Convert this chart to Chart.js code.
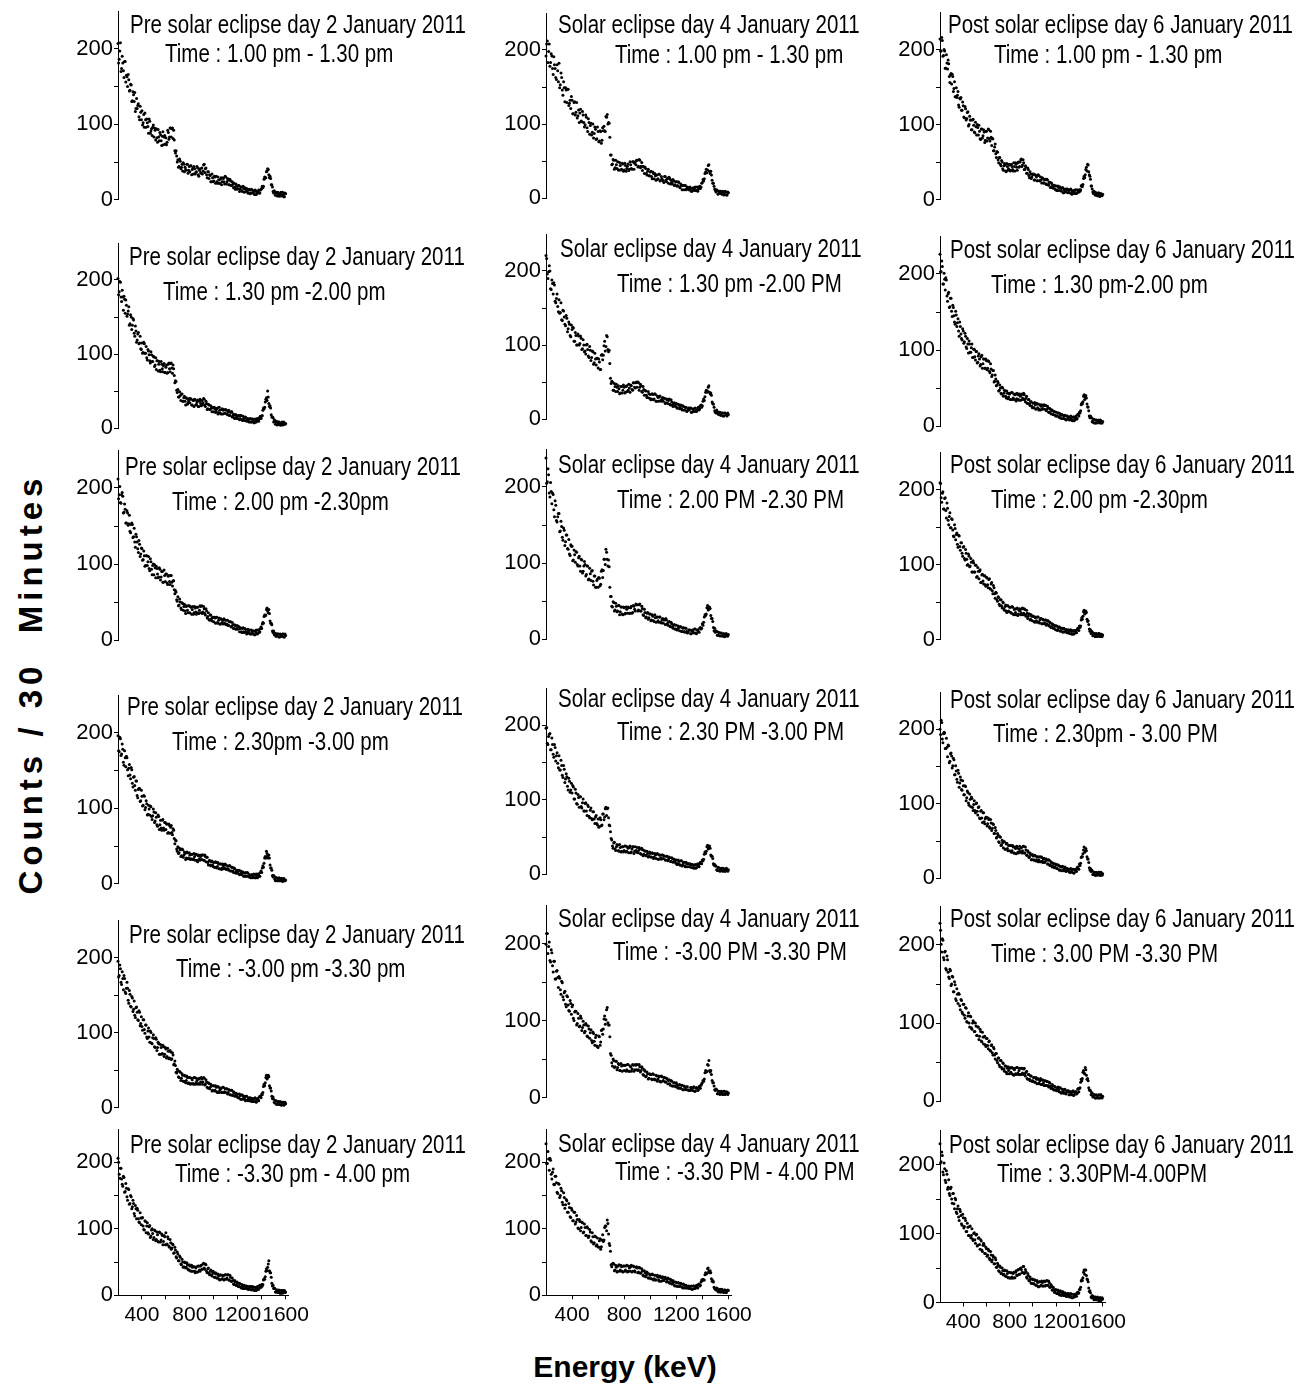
<!DOCTYPE html>
<html>
<head>
<meta charset="utf-8">
<script src="https://cdn.jsdelivr.net/npm/chart.js@4.4.1/dist/chart.umd.min.js"></script>
<style>
body { margin: 0; background: #fff; width: 1304px; height: 1392px; position: relative; overflow: hidden; font-family: "Liberation Sans", Arial, sans-serif; color: #000; }
canvas { position: absolute; }
.ttl { position: absolute; font-size: 25px; line-height: 1; white-space: pre; transform: scaleX(0.82); transform-origin: 0 0; }
#ylab { position: absolute; left: 30px; top: 684px; font-size: 33px; font-weight: bold; letter-spacing: 5px; white-space: pre; line-height: 1; transform: translate(-50%, -50%) rotate(-90deg); }
#xlab { position: absolute; left: 625px; top: 1352px; font-size: 30px; font-weight: bold; line-height: 1; white-space: pre; transform: translateX(-50%); }
</style>
</head>
<body>
<div id="ylab">Counts / 30  Minutes</div>
<div id="xlab">Energy (keV)</div>
<script>
// energy channels (keV), two interleaved sets
const energy = [
  200,210,220,230,240,250,260,270,280,290, 300,310,320,330,340,350,360,370,380,390,
  400,410,420,430,440,450,460,470,480,490, 500,510,520,530,540,550,560,570,580,590,
  600,610,620,630,640,650,660,670,680,690, 700,710,720,730,740,750,760,770,780,790,
  800,810,820,830,840,850,860,870,880,890, 900,910,920,930,940,950,960,970,980,990,
  1000,1010,1020,1030,1040,1050,1060,1070,1080,1090, 1100,1110,1120,1130,1140,1150,1160,1170,1180,1190,
  1200,1210,1220,1230,1240,1250,1260,1270,1280,1290, 1300,1310,1320,1330,1340,1350,1360,1370,1380,1390,
  1400,1410,1420,1430,1440,1450,1460,1470,1480,1490, 1500,1510,1520,1530,1540,1550,1560,1570,1580,1590,
  1600
];
const energyB = [
  205,215,225,235,245,255,265,275,285,295, 305,315,325,335,345,355,365,375,385,395,
  405,415,425,435,445,455,465,475,485,495, 505,515,525,535,545,555,565,575,585,595,
  605,615,625,635,645,655,665,675,685,695, 705,715,725,735,745,755,765,775,785,795,
  805,815,825,835,845,855,865,875,885,895, 905,915,925,935,945,955,965,975,985,995,
  1005,1015,1025,1035,1045,1055,1065,1075,1085,1095, 1105,1115,1125,1135,1145,1155,1165,1175,1185,1195,
  1205,1215,1225,1235,1245,1255,1265,1275,1285,1295, 1305,1315,1325,1335,1345,1355,1365,1375,1385,1395,
  1405,1415,1425,1435,1445,1455,1465,1475,1485,1495, 1505,1515,1525,1535,1545,1555,1565,1575,1585,1595
];

// counts / 30 min, pre eclipse day (2 Jan)
const preT1 = [
  207,186,208,174,181,162,183,165,150,159, 145,152,131,139,142,121,121,127,106,116,
  118,102,96,106,107,97,107,88,94,96, 83,92,94,76,83,89,78,84,73,85,
  82,76,89,83,95,94,81,79,62,58, 53,44,51,43,38,47,43,39,47,39,
  37,45,40,34,41,36,44,33,39,36, 42,38,47,41,33,37,28,32,24,29,
  25,30,31,22,26,22,29,24,28,21, 30,24,26,20,25,19,21,22,14,18,
  15,19,14,17,11,15,16,11,12,9, 13,9,13,10,7,12,10,11,9,13,
  15,16,27,29,37,41,33,31,20,17, 9,10,10,5,8,5,10,6,7,4, 8
];
const preT1b = [
  181,197,170,190,171,183,156,163,166,144, 153,130,143,130,117,134,125,110,124,106,
  99,113,115,96,102,88,104,91,85,99, 95,79,82,93,78,86,72,90,83,74,
  73,92,80,95,83,95,92,65,65,50, 43,54,41,47,49,37,40,47,35,44,
  45,33,42,44,34,37,42,31,41,35, 34,46,36,42,29,37,33,24,34,24,
  31,22,24,30,22,27,20,29,24,31, 21,28,20,27,19,24,16,17,21,14,
  19,11,17,12,18,10,14,15,9,14, 8,14,9,12,13,7,9,13,9,14,
  18,18,30,29,38,40,29,28,20,11, 12,6,9,10,5,8,5,10,4,9
];
const preT2 = [
  202,184,197,171,177,178,155,166,154,164, 141,150,139,146,124,131,119,129,115,107,
  115,102,114,101,95,106,99,88,99,90, 96,85,79,91,86,78,90,80,84,75,
  82,74,86,80,87,81,85,71,64,51, 52,42,44,46,36,41,36,41,32,37,
  34,39,31,37,39,31,35,29,36,33, 37,34,39,29,33,26,31,25,27,27,
  22,26,23,27,21,24,19,26,24,20, 25,19,22,17,21,22,17,14,18,15,
  13,17,13,17,10,13,14,10,12,9, 12,8,12,9,7,11,12,10,13,16,
  16,24,26,35,41,50,33,30,18,15, 8,10,8,4,8,5,4,8,6,5, 6
];
const preT2b = [
  180,198,177,186,159,174,173,151,158,139, 153,133,148,128,138,116,127,114,124,106,
  101,116,101,110,92,104,91,103,90,97, 83,95,91,77,90,76,86,76,87,75,
  85,75,88,76,88,74,80,61,63,48, 42,49,37,46,36,43,31,40,34,40,
  40,31,38,29,38,32,38,29,39,30, 31,40,31,36,25,32,25,30,22,28,
  28,21,26,19,28,20,25,19,25,20, 24,18,24,17,22,15,19,13,18,13,
  17,11,17,11,16,10,15,9,13,8, 13,8,12,7,12,8,13,9,15,13,
  17,27,28,39,37,42,29,27,15,14, 11,5,9,5,8,4,7,4,8,5
];
const preT3 = [
  212,191,181,191,189,168,172,154,167,153, 143,152,152,136,129,139,129,115,126,113,
  120,106,111,98,111,103,94,107,93,98, 86,95,97,87,83,93,83,90,76,85,
  87,75,84,77,85,76,78,66,65,53, 57,46,50,40,48,44,38,44,39,45,
  36,43,40,34,44,37,43,36,39,44, 45,37,41,33,38,31,27,33,28,30,
  24,29,30,23,26,21,28,23,26,22, 26,21,19,24,24,18,20,15,19,15,
  14,17,15,11,15,11,15,11,9,12, 13,8,11,12,7,11,9,13,10,15,
  15,23,31,32,40,38,40,25,22,12, 12,7,5,8,8,4,7,5,8,4, 6
];
const preT3b = [
  186,202,180,194,167,179,154,170,151,164, 141,154,135,147,122,136,120,131,110,121,
  105,117,97,111,98,110,91,103,86,100, 99,82,94,82,95,79,90,76,92,77,
  87,73,85,73,85,71,78,61,63,51, 45,54,42,49,39,47,35,45,36,45,
  44,34,44,36,42,34,43,35,45,36, 35,44,35,41,29,36,26,33,25,30,
  30,22,30,22,29,21,27,21,28,21, 20,26,19,24,17,23,15,20,14,19,
  18,11,16,10,16,10,14,8,14,9, 8,13,8,12,7,13,8,13,11,17,
  21,22,33,33,42,36,35,22,20,10, 7,9,5,8,4,8,5,8,4,8
];
const preT4 = [
  196,175,192,172,178,157,167,169,151,153, 144,154,133,141,130,136,117,125,126,110,
  116,104,116,101,106,92,99,103,89,90, 95,83,88,76,89,78,74,84,74,81,
  72,79,68,77,75,68,73,60,58,46, 49,41,45,37,45,38,40,34,41,34,
  38,33,39,33,36,39,31,37,33,36, 32,38,31,36,35,28,30,25,29,25,
  28,22,28,23,26,20,26,21,24,21, 25,20,20,24,17,22,17,21,15,17,
  14,18,13,15,16,10,14,10,15,10, 12,8,12,9,12,8,11,13,10,15,
  15,24,27,36,43,37,38,25,21,11, 11,6,8,4,7,4,7,4,7,4, 5
];
const preT4b = [
  176,194,170,185,161,176,155,167,143,158, 139,151,128,142,124,136,114,126,109,124,
  103,117,98,110,91,104,91,102,85,99, 81,94,78,91,72,84,71,85,71,81,
  79,67,79,67,77,65,71,53,57,43, 40,47,36,46,35,42,32,42,33,41,
  32,39,32,40,31,39,29,38,31,38, 38,31,38,29,35,25,31,24,30,23,
  22,29,21,28,20,26,19,26,20,26, 19,24,18,24,17,22,15,20,14,18,
  17,12,17,12,15,10,15,10,14,9, 9,12,8,13,8,13,8,13,10,17,
  21,22,34,34,40,34,34,21,18,9, 10,4,8,4,8,4,7,3,7,4
];
const preT5 = [
  195,176,185,164,172,176,154,159,159,139, 151,134,146,131,123,133,127,116,127,112,
  108,117,104,110,94,102,94,102,86,93, 92,80,91,80,85,71,80,72,81,71,
  78,68,75,66,74,65,70,58,56,46, 49,40,47,39,43,35,42,36,40,33,
  40,32,37,31,40,33,36,32,39,34, 38,34,39,31,34,26,32,27,29,23,
  29,23,27,20,27,23,25,20,27,21, 20,25,20,23,17,23,17,20,16,17,
  18,13,16,11,16,14,11,15,10,12, 9,12,11,8,12,8,11,10,14,15,
  18,20,31,33,43,40,41,26,22,12, 11,6,9,5,8,4,7,4,7,4, 5
];
const preT5b = [
  174,190,167,181,157,172,152,167,143,156, 135,148,128,142,120,134,117,129,109,121,
  103,117,99,110,92,106,87,100,85,97, 81,93,76,87,71,84,71,83,68,80,
  66,79,65,76,64,73,57,62,47,51, 41,48,36,45,35,43,33,42,32,40,
  31,39,32,40,31,39,31,38,31,40, 31,40,30,37,27,33,25,31,22,29,
  22,29,21,28,20,26,20,27,20,25, 25,18,24,17,23,16,21,15,19,14,
  13,18,11,17,11,15,9,15,9,13, 13,8,12,8,13,7,12,9,15,13,
  17,28,29,40,38,43,29,26,15,14, 7,9,4,8,4,8,3,7,3,7
];
const preT6 = [
  206,182,191,175,164,177,156,161,143,159, 138,148,133,138,119,130,131,115,109,116,
  116,104,98,111,104,94,103,87,98,93, 87,97,84,91,80,94,83,90,81,88,
  94,77,85,72,79,71,76,64,68,56, 62,52,57,46,50,43,49,42,46,38,
  44,36,42,43,36,41,35,44,38,44, 39,47,41,47,36,40,33,36,31,35,
  33,27,32,26,29,23,30,25,29,24, 31,26,31,23,27,21,22,16,20,15,
  18,13,17,11,14,10,14,11,13,9, 9,13,9,12,7,11,12,9,14,12,
  16,16,25,28,40,42,52,34,27,14, 10,10,5,8,5,7,3,7,4,7, 5
];
const preT6b = [
  200,176,191,167,179,155,168,148,160,137, 150,130,143,123,135,115,128,110,124,106,
  117,99,112,94,109,92,105,89,100,84, 98,82,95,81,95,80,92,76,90,76,
  76,88,74,84,69,77,63,72,58,65, 52,59,47,54,42,50,41,49,39,46,
  37,45,36,43,34,43,35,44,36,45, 39,48,39,46,34,41,31,38,29,36,
  27,34,26,32,24,31,24,30,23,31, 24,31,23,30,21,26,17,22,15,20,
  13,18,12,16,10,15,10,14,9,13, 13,8,13,8,12,7,13,9,15,12,
  14,23,24,36,37,47,37,34,18,15, 11,5,8,4,8,3,7,3,7,4
];

// counts / 30 min, eclipse day (4 Jan)
const eclT1 = [
  192,212,198,178,195,175,191,175,160,172, 182,153,163,139,149,149,129,147,128,121,
  132,114,130,116,108,119,115,104,117,102, 99,109,90,102,98,85,100,87,93,80,
  90,77,90,78,91,91,110,113,102,82, 58,46,51,41,45,49,38,44,39,46,
  38,44,40,46,39,45,39,49,47,45, 51,43,51,43,37,42,42,33,36,30,
  35,29,35,26,30,31,26,32,24,26, 23,29,24,26,20,26,24,19,23,18,
  22,17,21,14,17,17,11,17,13,14, 11,13,9,14,12,10,15,12,16,15,
  21,23,33,39,38,45,33,31,20,16, 10,11,5,9,9,5,8,5,8,4, 7
];
const eclT1b = [
  208,183,208,183,192,167,180,163,180,157, 149,169,146,157,130,146,147,125,132,137,
  114,129,112,129,111,102,120,103,112,96, 112,95,107,86,101,89,81,96,79,96,
  76,91,74,95,97,90,109,100,101,58, 45,52,39,51,40,38,48,38,47,36,
  47,36,43,37,49,40,49,39,49,51, 42,52,41,48,43,33,40,31,39,30,
  36,26,33,33,24,25,32,23,29,24, 21,29,22,27,28,19,21,25,17,22,
  16,22,15,19,11,17,17,11,15,11, 15,9,13,10,15,10,9,15,13,20,
  25,26,35,34,44,36,36,24,20,12, 8,10,6,9,6,9,4,9,4,8
];
const eclT2 = [
  221,196,199,200,175,183,184,159,163,152, 161,144,134,147,138,126,136,122,128,111,
  121,123,105,113,100,112,102,109,95,100, 92,100,94,83,93,83,91,76,81,82,
  69,77,67,87,86,105,98,111,91,75, 48,50,39,44,47,37,41,35,44,39,
  43,36,45,39,42,46,40,49,43,49, 43,49,43,45,36,40,39,32,29,34,
  33,27,33,27,33,24,29,30,25,27, 24,28,22,26,25,20,26,19,21,18,
  21,15,19,17,14,18,12,16,10,14, 12,15,9,13,14,10,12,16,14,19,
  18,27,30,39,38,45,34,32,21,16, 9,12,7,9,5,8,4,8,7,4, 6
];
const eclT2b = [
  217,190,207,176,188,169,181,157,169,145, 143,157,133,146,128,140,118,131,113,127,
  124,105,117,100,115,100,112,94,107,91, 88,101,85,98,79,92,74,89,73,82,
  81,67,86,80,99,92,113,94,93,55, 51,39,48,37,43,45,34,44,35,46,
  35,44,37,47,36,45,39,49,42,50, 50,39,47,37,44,32,38,29,37,28,
  26,34,26,34,24,31,24,31,24,29, 28,21,27,21,27,19,23,17,22,17,
  15,20,14,19,12,17,12,16,11,15, 15,9,14,10,15,10,15,12,18,16,
  24,25,36,36,43,36,35,23,20,11, 8,10,6,9,5,8,4,8,5,8
];
const eclT3 = [
  238,207,216,187,194,192,170,182,156,161, 165,142,148,130,143,128,137,118,112,124,
  122,104,111,115,98,107,96,105,87,96, 98,85,96,79,86,89,76,83,68,77,
  68,80,72,91,90,105,118,105,104,68, 56,42,48,38,43,37,44,36,42,32,
  41,34,39,42,34,41,34,44,39,46, 45,38,46,37,40,31,35,29,35,28,
  33,25,30,23,28,29,24,29,22,25, 21,25,27,20,22,17,22,16,18,13,
  18,13,15,16,10,14,10,14,10,9, 12,7,11,9,13,8,12,10,14,13,
  20,22,32,33,44,39,40,27,23,11, 9,10,5,8,8,4,7,3,7,4, 6
];
const eclT3b = [
  205,224,192,206,178,190,161,176,154,165, 141,155,134,146,123,137,119,131,110,122,
  103,117,101,114,96,109,89,104,89,102, 83,96,78,93,77,90,71,83,68,79,
  81,70,89,81,105,98,114,96,95,56, 43,49,37,47,36,44,32,42,33,42,
  33,42,34,41,34,43,35,43,37,45, 37,45,37,43,32,39,28,34,26,33,
  24,32,24,32,22,29,22,29,21,27, 26,19,25,18,23,16,20,14,19,13,
  12,17,11,16,10,15,9,14,8,12, 12,7,12,8,13,7,12,9,15,14,
  18,29,31,41,38,42,31,27,15,14, 11,5,9,4,8,4,7,4,7,4
];
const eclT4 = [
  196,176,185,189,167,174,157,170,159,149, 159,140,146,130,141,128,131,113,125,113,
  109,117,101,109,94,103,104,91,96,85, 95,85,93,78,86,75,84,74,77,68,
  74,64,73,66,81,77,90,88,76,65, 48,38,42,34,37,39,31,36,31,37,
  32,38,31,35,36,29,34,37,31,32, 36,32,34,27,33,27,31,26,28,24,
  28,23,28,23,26,27,20,26,22,26, 21,24,19,24,20,22,17,21,17,18,
  19,14,17,12,18,13,16,10,14,14, 10,13,13,9,12,8,13,11,14,16,
  19,20,30,31,39,36,35,24,21,12, 11,6,9,5,7,5,8,4,7,5, 6
];
const eclT4b = [
  197,174,188,167,183,161,174,152,163,143, 140,153,133,146,123,135,118,129,110,122,
  119,101,114,95,107,90,104,89,101,85, 96,79,91,76,89,73,84,68,79,66,
  63,76,65,81,73,88,79,89,66,57, 46,35,43,32,40,32,40,30,37,30,
  38,30,37,29,38,30,37,28,37,30, 29,36,28,35,25,32,25,31,23,30,
  23,29,21,28,21,28,20,26,20,26, 25,19,24,18,23,17,22,16,20,15,
  13,19,13,18,11,16,11,16,10,14, 14,9,13,8,13,9,14,10,16,14,
  18,27,28,37,34,38,26,24,14,13, 11,5,9,4,8,4,7,4,8,4
];
const eclT5 = [
  199,213,196,178,192,171,177,154,164,156, 157,140,151,131,136,121,132,120,112,122,
  118,103,111,112,96,103,93,103,91,94, 86,94,79,89,84,74,85,73,78,67,
  65,79,72,88,89,106,101,117,94,79, 55,41,48,40,47,39,43,35,41,42,
  35,42,36,43,34,40,37,42,36,42, 43,36,40,35,38,29,34,28,31,25,
  30,24,31,24,23,28,24,27,20,27, 22,26,20,24,22,18,22,15,19,15,
  19,13,16,12,16,10,15,11,14,10, 9,13,10,13,8,12,12,10,15,16,
  19,21,32,33,43,48,33,30,19,15, 9,10,5,8,5,7,4,8,5,7, 6
];
const eclT5b = [
  213,187,202,176,188,163,177,154,165,143, 155,134,149,127,138,118,131,113,126,108,
  120,100,112,94,109,92,106,87,99,84, 96,80,93,77,88,71,83,68,81,66,
  80,68,87,82,102,95,114,97,94,57, 45,50,39,47,36,44,35,44,34,42,
  42,34,43,34,41,34,43,34,43,36, 35,43,33,40,30,36,27,33,24,31,
  30,23,30,23,29,21,28,21,28,21, 26,20,25,18,23,16,21,15,19,14,
  17,12,17,12,16,10,14,10,14,9, 9,13,9,14,8,13,9,14,12,18,
  22,24,35,34,42,35,35,22,19,10, 11,5,8,4,8,4,8,4,7,4
];
const eclT6 = [
  228,198,205,206,182,185,167,179,169,153, 167,150,157,136,147,136,142,125,132,117,
  128,112,125,110,114,100,111,102,109,95, 102,90,101,89,95,80,88,79,88,76,
  73,82,69,83,81,102,104,113,92,75, 46,47,47,38,42,36,46,38,43,35,
  44,38,45,36,41,43,35,44,37,42, 41,35,41,34,37,29,34,30,33,26,
  30,25,31,25,23,29,27,21,27,26, 22,26,25,21,25,18,22,18,20,14,
  19,13,18,14,17,11,15,15,11,13, 10,13,9,14,10,13,12,16,14,20,
  22,23,31,32,40,36,37,25,22,12, 9,11,6,8,5,9,5,8,4,7, 7
];
const eclT6b = [
  198,216,188,203,175,190,166,179,155,168, 147,161,140,154,131,144,125,138,118,131,
  112,125,107,120,101,114,97,110,94,107, 90,103,87,99,82,94,77,89,74,86,
  72,85,73,91,83,104,97,108,78,66, 43,48,37,45,35,44,36,45,36,44,
  36,44,35,44,36,45,36,43,35,43, 34,42,33,40,30,37,28,35,26,32,
  25,32,23,30,23,30,23,29,21,28, 22,27,20,26,19,24,17,22,15,20,
  14,19,13,18,12,17,11,15,11,14, 10,14,9,14,10,15,11,17,15,23,
  24,23,34,33,41,34,34,21,20,10, 8,10,5,9,5,8,4,8,4,8
];

// counts / 30 min, post eclipse day (6 Jan)
const postT1 = [
  214,198,212,192,198,175,182,186,164,166, 154,164,148,137,149,139,126,135,136,119,
  125,109,121,108,117,100,106,93,106,99, 89,97,100,86,91,80,94,85,90,79,
  91,82,93,78,83,81,65,70,61,64, 53,56,47,52,41,45,46,37,44,41,
  46,39,44,38,44,49,43,49,43,50, 54,46,49,40,43,35,40,29,34,30,
  33,26,33,30,25,32,25,26,29,22, 26,21,27,20,23,16,22,17,18,14,
  18,12,16,17,12,15,9,13,11,14, 9,12,13,8,11,9,12,8,13,10,
  13,13,19,20,31,33,43,47,37,31, 18,14,8,10,6,8,5,8,5,6, 7
];
const postT1b = [
  198,216,191,200,175,193,174,181,156,168, 167,144,157,137,136,144,123,134,119,130,
  110,124,106,116,98,111,106,93,107,90, 103,86,96,99,81,94,82,93,76,91,
  78,94,81,91,72,81,65,74,56,63, 49,56,45,50,39,48,38,48,39,47,
  38,47,40,49,38,47,39,50,44,53, 44,53,40,45,35,42,32,37,28,34,
  34,26,32,25,33,25,30,22,28,22, 27,20,26,19,23,16,20,15,19,13,
  12,18,12,16,11,16,9,14,10,14, 13,9,14,7,12,8,13,8,12,10,
  11,18,17,28,29,40,38,46,33,27, 18,10,11,6,9,5,9,4,8,5
];
const postT2 = [
  226,203,210,187,193,195,171,174,156,168, 151,159,145,134,146,136,125,137,121,113,
  125,111,118,102,108,112,97,103,90,101, 91,98,83,92,88,81,93,82,88,76,
  86,76,85,70,75,67,73,59,62,54, 57,47,50,42,50,43,46,37,43,38,
  42,35,44,37,35,42,36,41,34,39, 41,37,43,35,37,30,35,29,32,26,
  30,24,28,30,24,21,28,26,22,27, 22,27,22,24,18,22,20,15,19,14,
  18,13,17,11,14,15,10,13,9,13, 9,12,9,11,7,12,9,13,10,15,
  18,20,30,32,41,38,37,25,20,11, 11,6,9,4,8,4,7,5,8,4, 6
];
const postT2b = [
  203,217,187,201,179,192,164,176,157,168, 144,156,137,151,131,141,118,131,115,128,
  109,122,104,115,96,108,97,108,90,101, 87,98,84,95,79,91,76,88,76,88,
  74,86,72,82,65,73,58,67,53,59, 46,54,43,51,39,47,39,46,36,43,
  35,44,35,42,41,33,43,35,42,34, 42,35,41,32,39,30,35,27,32,24,
  24,31,22,29,29,22,21,28,23,28, 27,20,26,18,23,16,21,15,19,13,
  13,17,12,16,10,14,10,14,8,13, 12,8,13,8,12,7,12,9,15,13,
  17,28,29,39,35,40,29,25,13,13, 11,5,9,4,8,5,8,4,7,4
];
const postT3 = [
  209,189,195,174,188,172,182,159,164,149, 161,146,137,148,140,127,139,124,129,115,
  123,108,120,107,100,111,98,103,90,102, 90,99,84,91,91,76,86,78,85,73,
  83,73,80,68,74,65,72,61,63,53, 57,47,53,45,50,41,44,38,45,38,
  43,36,44,34,40,36,41,32,39,38, 35,42,35,40,31,35,31,34,27,31,
  31,24,29,25,30,23,26,28,21,26, 22,26,21,25,18,22,17,20,15,18,
  18,12,16,16,12,15,10,14,11,13, 9,12,12,8,11,7,12,10,13,15,
  18,18,29,31,39,35,36,24,20,11, 8,10,6,8,4,7,5,8,4,7, 6
];
const postT3b = [
  208,183,197,174,189,162,175,153,169,149, 160,138,153,133,142,123,138,119,129,111,
  124,106,115,99,114,97,108,90,105,90, 99,83,96,81,93,76,87,74,85,71,
  82,69,81,67,76,61,69,55,62,51, 56,45,53,42,49,39,46,36,45,37,
  43,35,43,33,41,33,42,34,41,33, 41,33,41,33,39,28,34,26,33,25,
  31,23,30,23,30,22,28,21,27,21, 26,19,25,19,23,16,21,15,19,13,
  18,13,17,11,15,10,15,10,13,9, 13,8,13,7,12,8,12,9,15,12,
  16,26,27,37,34,38,27,25,14,13, 11,5,8,4,8,4,8,4,7,4
];
const postT4 = [
  200,212,187,194,195,174,176,179,155,167, 164,151,159,139,144,129,141,128,132,118,
  124,112,123,108,115,98,106,109,95,99, 91,100,90,95,81,90,81,88,76,80,
  82,73,79,67,74,67,72,60,64,55, 58,48,55,45,48,49,39,46,40,44,
  37,44,37,42,34,40,43,35,39,36, 41,37,43,34,38,31,35,29,32,25,
  30,24,30,25,29,25,22,29,23,26, 21,26,24,19,24,18,21,16,19,15,
  18,13,17,11,15,15,11,13,10,13, 10,12,8,11,12,7,11,10,14,13,
  19,20,29,33,42,37,37,26,21,11, 9,10,5,8,4,7,5,8,4,7, 6
];
const postT4b = [
  193,209,182,196,174,188,163,178,157,168, 148,161,139,151,133,145,122,136,119,131,
  112,124,104,117,101,113,96,107,91,104, 88,101,85,96,80,91,75,88,73,82,
  70,81,69,79,64,73,60,68,54,60, 49,56,44,51,41,49,39,47,37,44,
  44,35,44,34,42,33,41,34,43,35, 34,43,34,42,31,37,28,34,25,32,
  25,31,23,29,22,29,22,28,21,27, 22,26,19,25,17,22,15,20,14,19,
  13,18,11,16,10,16,10,15,9,13, 12,8,13,8,12,7,12,9,15,12,
  17,28,29,38,35,40,29,26,14,13, 11,5,8,4,8,4,8,4,8,4
];
const postT5 = [
  228,201,208,184,191,170,186,165,157,167, 150,159,140,149,129,137,138,122,130,114,
  124,110,120,102,109,100,109,94,100,101, 89,96,84,95,83,89,76,82,82,72,
  80,71,76,65,71,62,69,59,61,52, 55,46,52,43,49,41,45,37,42,39,
  42,37,43,34,40,35,43,36,39,34, 42,36,41,35,37,29,34,28,32,26,
  26,30,24,28,29,23,26,21,27,23, 26,20,25,20,24,19,17,20,14,18,
  14,17,14,17,11,15,12,14,10,12, 12,8,12,9,12,7,11,12,10,16,
  16,24,26,37,36,43,33,29,17,14, 8,10,6,8,4,7,7,4,8,5, 6
];
const postT5b = [
  219,191,206,181,192,168,181,159,169,148, 160,140,153,131,144,125,137,117,129,112,
  124,106,119,101,113,95,108,92,103,89, 100,84,95,79,92,77,88,73,83,70,
  80,67,77,64,72,59,67,54,61,49, 55,44,52,41,48,38,45,35,44,35,
  43,35,42,33,42,34,43,34,42,34, 42,34,42,32,38,28,34,26,32,25,
  30,24,30,22,28,22,29,21,27,20, 26,20,25,18,23,16,21,15,19,14,
  13,18,12,17,10,15,10,15,9,13, 13,8,12,8,13,8,12,9,15,12,
  17,28,29,39,35,40,28,26,14,13, 11,5,8,4,8,4,8,4,8,4
];
const postT6 = [
  230,204,213,185,194,174,186,167,158,165, 150,158,143,151,131,136,124,135,126,112,
  123,110,119,103,109,97,111,97,92,100, 91,98,82,93,84,91,76,83,83,71,
  78,69,75,62,69,62,66,56,62,51, 54,45,51,42,46,41,46,38,42,36,
  36,43,37,42,36,44,40,47,41,49, 48,44,52,43,45,35,39,31,34,28,
  33,27,32,25,29,23,30,25,29,24, 30,25,32,25,29,22,24,18,19,15,
  18,13,16,11,15,12,14,10,12,9, 9,12,9,12,7,12,9,12,14,13,
  19,22,33,36,47,47,39,33,21,17, 8,10,6,8,4,7,6,3,7,4, 5
];
const postT6b = [
  202,218,189,202,177,191,164,178,155,167, 144,158,136,149,129,140,119,132,114,128,
  108,122,103,115,97,110,94,107,90,101, 86,99,83,94,77,89,74,86,71,80,
  67,77,64,74,59,68,56,65,51,57, 46,53,42,50,40,47,38,46,36,44,
  35,43,35,44,36,46,39,48,41,50, 43,52,42,48,37,42,32,37,28,34,
  27,33,25,32,23,30,24,31,24,31, 24,31,25,31,22,26,18,22,15,19,
  13,18,12,17,10,16,10,14,9,13, 13,8,13,7,12,8,12,9,15,14,
  19,31,32,44,41,47,34,30,16,14, 7,9,4,8,4,8,3,7,3,7
];

const headings = [
  'Pre solar eclipse day 2 January 2011',
  'Solar eclipse day 4 January 2011',
  'Post solar eclipse day 6 January 2011'
];
const timeLabels = [
  ['Time : 1.00 pm - 1.30 pm', 'Time : 1.00 pm - 1.30 pm', 'Time : 1.00 pm - 1.30 pm'],
  ['Time : 1.30 pm -2.00 pm', 'Time : 1.30 pm -2.00 PM', 'Time : 1.30 pm-2.00 pm'],
  ['Time : 2.00 pm -2.30pm', 'Time : 2.00 PM -2.30 PM', 'Time : 2.00 pm -2.30pm'],
  ['Time : 2.30pm -3.00 pm', 'Time : 2.30 PM -3.00 PM', 'Time : 2.30pm - 3.00 PM'],
  ['Time : -3.00 pm -3.30 pm', 'Time : -3.00 PM -3.30 PM', 'Time : 3.00 PM -3.30 PM'],
  ['Time : -3.30 pm - 4.00 pm', 'Time : -3.30 PM - 4.00 PM', 'Time : 3.30PM-4.00PM']
];
// tick marks and which of them carry a label
const xTickMarks = [400, 600, 800, 1000, 1200, 1400, 1600];
const xTicks = [400, 800, 1200, 1600];
const yTickMarks = [0, 50, 100, 150, 200];
const yTicks = [0, 100, 200];

const panelCounts = [
  [[preT1, preT1b], [eclT1, eclT1b], [postT1, postT1b]],
  [[preT2, preT2b], [eclT2, eclT2b], [postT2, postT2b]],
  [[preT3, preT3b], [eclT3, eclT3b], [postT3, postT3b]],
  [[preT4, preT4b], [eclT4, eclT4b], [postT4, postT4b]],
  [[preT5, preT5b], [eclT5, eclT5b], [postT5, postT5b]],
  [[preT6, preT6b], [eclT6, eclT6b], [postT6, postT6b]]
];

// page layout: y-axis x position and plot width per column
const colX = [118, 546, 940];
const colW = [170, 185, 165];
// pixel y of count 0 and count 200 for each panel
const rowY = [
  [[200, 49], [198, 50], [199, 49]],
  [[428, 280], [419, 271], [426, 274]],
  [[640, 488], [639, 487], [639, 489]],
  [[884, 733], [874, 725], [878, 729]],
  [[1107, 957], [1097, 943], [1101, 945]],
  [[1295, 1162], [1295, 1162], [1302, 1164]]
];
// title line positions: [x1, baseline1, x2, baseline2]
const titlePos = [
  [[130, 33, 165, 62], [558, 33, 615, 63], [948, 33, 994, 63]],
  [[129, 265, 163, 300], [560, 257, 617, 292], [950, 258, 991, 293]],
  [[125, 475, 172, 510], [558, 473, 617, 508], [950, 473, 991, 508]],
  [[127, 715, 172, 750], [558, 707, 617, 740], [950, 708, 993, 742]],
  [[129, 943, 176, 977], [558, 927, 613, 960], [950, 927, 991, 962]],
  [[130, 1153, 175, 1182], [558, 1152, 615, 1180], [949, 1153, 997, 1182]]
];

const FONT = '"Liberation Sans", Arial, sans-serif';
const LEFT = 56, RIGHT = 26, TOP = 16, BELOW = 16, X_AXIS_H = 36;

function addText(txt, x, base) {
  const d = document.createElement('div');
  d.className = 'ttl';
  d.textContent = txt;
  d.style.left = x + 'px';
  d.style.top = (base - 21) + 'px';
  document.body.appendChild(d);
}

function makePanel(r, c) {
  const bottom = r === rowY.length - 1;
  const zeroY = rowY[r][c][0], y200 = rowY[r][c][1];
  const yTop = y200 - (zeroY - y200) / 4;
  const plotH = zeroY - yTop;
  const xAxisH = bottom ? X_AXIS_H : 0;
  const cvH = Math.ceil(TOP + plotH + (bottom ? X_AXIS_H : BELOW));

  const cv = document.createElement('canvas');
  cv.width = LEFT + colW[c] + RIGHT;
  cv.height = cvH;
  cv.style.left = (colX[c] - LEFT) + 'px';
  cv.style.top = (yTop - TOP) + 'px';
  document.body.appendChild(cv);

  const [countsA, countsB] = panelCounts[r][c];
  const pts = energy.map((e, i) => ({ x: e, y: countsA[i] }))
    .concat(energyB.map((e, i) => ({ x: e, y: countsB[i] })));

  new Chart(cv.getContext('2d'), {
    type: 'scatter',
    data: {
      datasets: [{
        data: pts,
        backgroundColor: '#000',
        borderWidth: 0,
        pointRadius: 1.5,
        clip: false
      }]
    },
    options: {
      responsive: false,
      animation: false,
      devicePixelRatio: 1,
      layout: {
        autoPadding: false,
        padding: { top: TOP, right: RIGHT, bottom: cvH - TOP - plotH - xAxisH, left: 0 }
      },
      plugins: { legend: { display: false }, tooltip: { enabled: false } },
      scales: {
        x: {
          type: 'linear',
          display: bottom,
          min: 200,
          max: 1620,
          afterBuildTicks: s => { s.ticks = xTickMarks.map(v => ({ value: v })); },
          afterFit: s => { s.height = xAxisH; },
          grid: { drawOnChartArea: false, drawTicks: true, tickLength: 4, color: '#000' },
          border: { display: true, color: '#000', width: 1 },
          ticks: {
            autoSkip: false,
            maxRotation: 0,
            padding: 3,
            color: '#000',
            font: { family: FONT, size: 21 },
            callback: v => (xTicks.includes(v) ? String(v) : '')
          }
        },
        y: {
          min: 0,
          max: 250,
          afterBuildTicks: s => { s.ticks = yTickMarks.map(v => ({ value: v })); },
          afterFit: s => { s.width = LEFT; },
          grid: { drawOnChartArea: false, drawTicks: true, tickLength: 4, color: '#000' },
          border: { display: true, color: '#000', width: 1 },
          ticks: {
            autoSkip: false,
            padding: 1,
            color: '#000',
            font: { family: FONT, size: 22 },
            callback: v => (yTicks.includes(v) ? String(v) : '')
          }
        }
      }
    }
  });

  const tp = titlePos[r][c];
  addText(headings[c], tp[0], tp[1]);
  addText(timeLabels[r][c], tp[2], tp[3]);
}

for (let r = 0; r < rowY.length; r++) {
  for (let c = 0; c < 3; c++) makePanel(r, c);
}
</script>
</body>
</html>
